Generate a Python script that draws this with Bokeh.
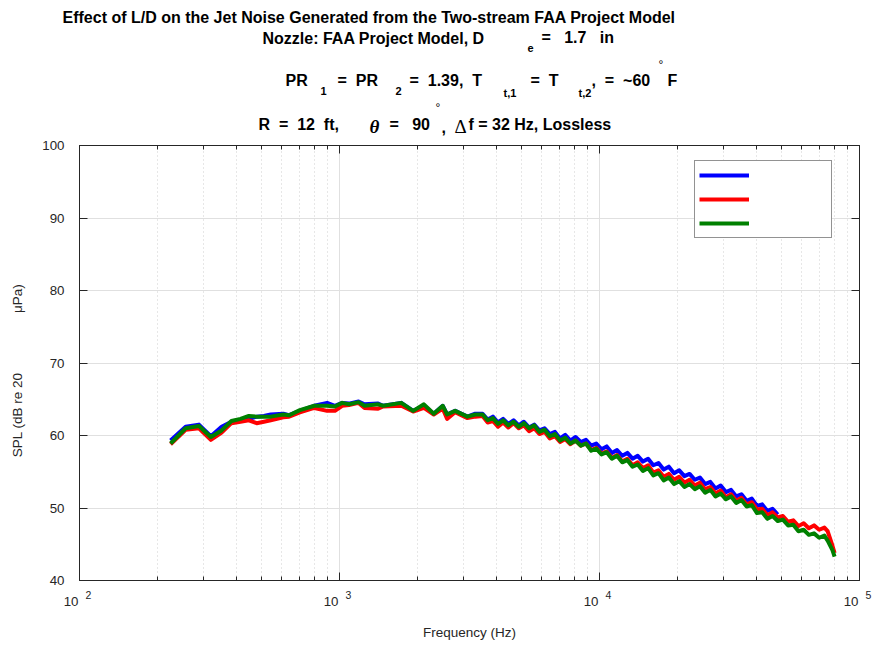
from bokeh.plotting import figure
from bokeh.layouts import column
from bokeh.models import (Range1d, FixedTicker, LinearAxis, LogAxis, LogScale,
                          Legend, LegendItem, CustomJSTickFormatter)
from bokeh.core.properties import value
from bokeh.embed import file_html
from bokeh.resources import INLINE

FONT = "Liberation Sans"
DARK = "#262626"
NB = "\u00a0"

# ---- data ----
freq = [224, 256, 288, 320, 352, 384, 416, 448, 480, 512, 544, 608, 640, 704, 800,
        896, 960, 1024, 1088, 1184, 1248, 1408, 1472, 1728, 1920, 2112, 2304, 2496,
        2592, 2784, 3104, 3328,
        3550, 3715, 3890, 4070, 4260, 4460, 4670, 4890, 5120, 5360, 5610, 5870, 6150,
        6440, 6740, 7050, 7380, 7730, 8090, 8470, 8870, 9290, 9720, 10180, 10660,
        11160, 11680, 12230, 12800, 13400, 14030, 14690, 15380, 16100, 16860, 17650,
        18480, 19350, 20260, 21210, 22210, 23250, 24340, 25490, 26690, 27940, 29250,
        30630, 32070, 33570, 35150, 36800, 38530, 40340, 42240, 44220, 46300, 48470,
        50750, 53130, 55630, 58240, 60980, 63840, 66840, 69980, 73270, 75400, 78700,
        80200]

spl_blue = [59.3, 61.2, 61.5, 59.9, 61.2, 61.9, 62.1, 62.3, 62.6, 62.7, 62.9, 63.0,
            62.8, 63.4, 64.1, 64.5, 64.1, 64.5, 64.4, 64.7, 64.3, 64.4, 64.1, 64.5,
            63.4, 64.1, 63.0, 64.1, 62.9, 63.4, 62.6, 63.0,
            63.0, 62.2, 62.6, 61.8, 62.3, 61.6, 62.1, 61.4, 61.9, 61.1, 61.5, 60.7,
            61.0, 60.2, 60.5, 59.6, 60.1, 59.3, 59.8, 59.1, 59.4, 58.6, 58.9, 58.1,
            58.5, 57.6, 58.0, 57.2, 57.6, 56.8, 57.2, 56.4, 56.8, 55.9, 56.2, 55.3,
            55.7, 54.8, 55.2, 54.4, 54.7, 53.9, 54.2, 53.3, 53.6, 52.7, 53.1, 52.2,
            52.5, 51.6, 51.9, 51.0, 51.3, 50.3, 50.5, 49.6, 49.9, 49.1]

spl_red = [58.8, 60.8, 61.0, 59.4, 60.4, 61.7, 61.9, 62.1, 61.7, 61.9, 62.1, 62.5,
           62.6, 63.2, 63.8, 63.4, 63.4, 64.1, 64.2, 64.5, 63.8, 63.7, 64.0, 64.1,
           63.3, 63.8, 62.9, 63.7, 62.3, 63.2, 62.4, 62.6,
           62.7, 61.8, 62.0, 61.2, 61.8, 61.1, 61.7, 61.0, 61.4, 60.6, 61.0, 60.2,
           60.5, 59.6, 59.9, 59.1, 59.5, 58.8, 59.3, 58.6, 58.9, 58.0, 58.3, 57.5,
           57.8, 56.9, 57.3, 56.4, 56.8, 55.9, 56.3, 55.5, 55.9, 54.9, 55.2, 54.3,
           54.7, 53.9, 54.3, 53.5, 53.9, 53.1, 53.5, 52.6, 52.9, 52.0, 52.4, 51.5,
           51.9, 51.0, 51.4, 50.5, 50.8, 49.8, 49.9, 49.0, 49.4, 48.7, 48.9, 48.1,
           48.3, 47.5, 47.9, 47.2, 47.6, 47.0, 47.3, 46.8, 44.8, 43.8]

spl_green = [58.9, 61.0, 61.3, 59.8, 60.7, 62.0, 62.3, 62.7, 62.6, 62.6, 62.6, 62.9,
             62.8, 63.5, 64.1, 64.1, 64.0, 64.5, 64.3, 64.6, 64.1, 64.3, 64.1, 64.5,
             63.4, 64.3, 63.0, 64.1, 62.9, 63.4, 62.6, 62.9,
             62.9, 62.1, 62.4, 61.6, 62.1, 61.4, 61.9, 61.2, 61.7, 61.0, 61.4, 60.5,
             60.8, 59.9, 60.2, 59.3, 59.7, 58.9, 59.3, 58.6, 58.9, 57.9, 58.2, 57.4,
             57.7, 56.8, 57.2, 56.3, 56.6, 55.7, 56.0, 55.1, 55.5, 54.5, 54.8, 53.8,
             54.2, 53.3, 53.7, 52.9, 53.3, 52.6, 53.0, 52.1, 52.5, 51.6, 52.0, 51.2,
             51.6, 50.7, 51.1, 50.2, 50.4, 49.3, 49.4, 48.5, 48.9, 48.2, 48.4, 47.6,
             47.7, 46.8, 47.0, 46.3, 46.5, 45.9, 46.2, 45.5, 44.2, 43.3]

x_major = [100, 1000, 10000, 100000]
x_exponents = ["2", "3", "4", "5"]
x_minor = [m * d for d in (100, 1000, 10000) for m in range(2, 10)]
y_ticks = [40, 50, 60, 70, 80, 90, 100]

# title pieces: text, x (px), y middle (px), size, style, font
title_parts = [
    ("Effect of L/D on the Jet Noise Generated from the Two-stream FAA Project Model", 62, 17, "16px", "bold", FONT),
    ("Nozzle: FAA Project Model, D", 262, 38, "16px", "bold", FONT),
    ("e", 527, 47, "11px", "bold", FONT),
    ("=" + NB * 3 + "1.7" + NB * 3 + "in", 541, 37, "16px", "bold", FONT),
    ("PR", 285, 80, "16px", "bold", FONT),
    ("1", 320, 90, "11px", "bold", FONT),
    ("=" + NB * 2 + "PR", 337, 80, "16px", "bold", FONT),
    ("2", 395, 90, "11px", "bold", FONT),
    ("=" + NB * 2 + "1.39," + NB * 2 + "T", 409, 80, "16px", "bold", FONT),
    ("t,1", 503, 92, "11px", "bold", FONT),
    ("=" + NB * 2 + "T", 530, 80, "16px", "bold", FONT),
    ("t,2", 578, 92, "11px", "bold", FONT),
    ("," + NB * 2 + "=" + NB * 2 + "~60", 591, 80, "16px", "bold", FONT),
    ("°", 658, 64, "12px", "normal", FONT),
    ("F", 667, 80, "16px", "bold", FONT),
    ("R" + NB * 2 + "=" + NB * 2 + "12" + NB * 2 + "ft,", 258, 124, "16px", "bold", FONT),
    ("θ", 369, 126, "19px", "bold italic", "Liberation Serif"),
    ("=" + NB * 3 + "90", 389, 124, "16px", "bold", FONT),
    ("°", 435, 107, "12px", "normal", FONT),
    (",", 441, 126, "16px", "bold", FONT),
    ("Δ", 454, 126, "19px", "normal", "Liberation Serif"),
    ("f = 32 Hz, Lossless", 468, 124, "16px", "bold", FONT),
]

TITLE_H = 137
TOP_B, FRAME_H, BOT_B = 8, 435, 8
LEFT_B, FRAME_W, RIGHT_B = 79, 780, 16
PAGE_W = LEFT_B + FRAME_W + RIGHT_B
BOTTOM_Y0 = TITLE_H + TOP_B + FRAME_H + BOT_B
BOTTOM_H = 54


def no_align(fig):
    if "frame_align" in fig.properties():
        fig.frame_align = False


# ---------- title strip ----------
tf = figure(width=PAGE_W, height=TITLE_H, x_range=Range1d(0, PAGE_W), y_range=Range1d(TITLE_H, 0),
            min_border=0, x_axis_location=None, y_axis_location=None,
            output_backend="svg", toolbar_location=None, outline_line_color=None)
no_align(tf)
tf.grid.visible = False
for txt, tx, ty, size, style, font in title_parts:
    tf.text(x=[tx], y=[ty], text=[txt], text_font=value(font), text_font_size=value(size),
            text_font_style=value(style), text_align="left", text_baseline="middle",
            text_color="black")

# ---------- main plot ----------
p = figure(x_axis_type="log", x_range=Range1d(100, 100000), y_range=Range1d(40, 100),
           frame_width=FRAME_W, frame_height=FRAME_H,
           min_border_left=LEFT_B, min_border_right=RIGHT_B,
           min_border_top=TOP_B, min_border_bottom=BOT_B,
           output_backend="svg", toolbar_location=None,
           background_fill_color="white", border_fill_color="white")
no_align(p)
p.outline_line_color = DARK

blank = CustomJSTickFormatter(code="return ''")

xax = p.xaxis[0]
xax.ticker = FixedTicker(ticks=x_major, minor_ticks=x_minor)
xax.formatter = blank
yax = p.yaxis[0]
yax.ticker = FixedTicker(ticks=y_ticks)
yax.axis_label = "SPL (dB re 20" + NB * 16 + "μPa)" + NB * 4
yax.axis_label_standoff = 14
yax.major_label_standoff = 15

right = LinearAxis(ticker=FixedTicker(ticks=y_ticks), formatter=blank)
top = LogAxis(ticker=FixedTicker(ticks=x_major, minor_ticks=x_minor), formatter=blank)
p.add_layout(right, "right")
p.add_layout(top, "above")

for ax in (xax, yax, right, top):
    ax.axis_line_color = DARK
    ax.major_tick_line_color = DARK
    ax.minor_tick_line_color = DARK
    ax.major_tick_in = 8
    ax.major_tick_out = 0
    ax.minor_tick_in = 4
    ax.minor_tick_out = 0
    ax.major_label_text_font = FONT
    ax.major_label_text_font_size = "13.3px"
    ax.major_label_text_color = DARK
    ax.axis_label_text_font = FONT
    ax.axis_label_text_font_size = "13.5px"
    ax.axis_label_text_font_style = "normal"
    ax.axis_label_text_color = DARK
for ax in (xax, right, top):
    ax.major_label_text_font_size = "0px"
    ax.major_label_standoff = 0
for ax in (yax, right):
    ax.minor_tick_line_color = None

p.xgrid.ticker = FixedTicker(ticks=x_major, minor_ticks=x_minor)
p.ygrid.ticker = FixedTicker(ticks=y_ticks)
p.xgrid.grid_line_color = "#e0e0e0"
p.ygrid.grid_line_color = "#e0e0e0"
p.xgrid.minor_grid_line_color = "#cfcfcf"
p.xgrid.minor_grid_line_dash = "1 3"

rb = p.line(freq[:len(spl_blue)], spl_blue, line_color="#0000ff", line_width=4, line_join="round")
rr = p.line(freq[:len(spl_red)], spl_red, line_color="#ff0000", line_width=4, line_join="round")
rg = p.line(freq[:len(spl_green)], spl_green, line_color="#008000", line_width=4, line_join="round")

legend = Legend(items=[LegendItem(label=" ", renderers=[rb]),
                       LegendItem(label=" ", renderers=[rr]),
                       LegendItem(label=" ", renderers=[rg])],
                location=(615, 342), orientation="vertical",
                padding=4, spacing=4, margin=0,
                glyph_width=50, glyph_height=20, label_height=20, label_width=73,
                label_standoff=5, border_line_color=DARK, border_line_width=1,
                background_fill_color="white", background_fill_alpha=1.0)
p.add_layout(legend)

# ---------- bottom strip: x tick labels and x axis label ----------
# full-width frame; the log range is widened so that 10^2..10^5 fall under the main axis
bf = figure(width=PAGE_W, height=BOTTOM_H,
            x_range=Range1d(10 ** (2 - LEFT_B / 260), 10 ** (5 + RIGHT_B / 260)),
            y_range=Range1d(BOTTOM_Y0 + BOTTOM_H, BOTTOM_Y0), x_axis_type="log",
            min_border=0, x_axis_location=None, y_axis_location=None,
            output_backend="svg", toolbar_location=None, outline_line_color=None)
no_align(bf)
bf.x_scale = LogScale()
bf.grid.visible = False
bf.text(x=x_major, y=[601] * len(x_major), text=["10"] * len(x_major), x_offset=-1,
        text_font=value(FONT), text_font_size=value("13.3px"), text_align="right",
        text_baseline="middle", text_color=DARK)
bf.text(x=x_major, y=[594] * len(x_major), text=x_exponents, x_offset=6,
        text_font=value(FONT), text_font_size=value("10.5px"), text_align="left",
        text_baseline="middle", text_color=DARK)
bf.text(x=[10 ** 3.5], y=[632], text=["Frequency (Hz)"], text_font=value(FONT),
        text_font_size=value("13.5px"), text_align="center", text_baseline="middle",
        text_color=DARK)

layout = column(tf, p, bf, spacing=0)
open("out.html", "w").write(file_html(layout, INLINE))
